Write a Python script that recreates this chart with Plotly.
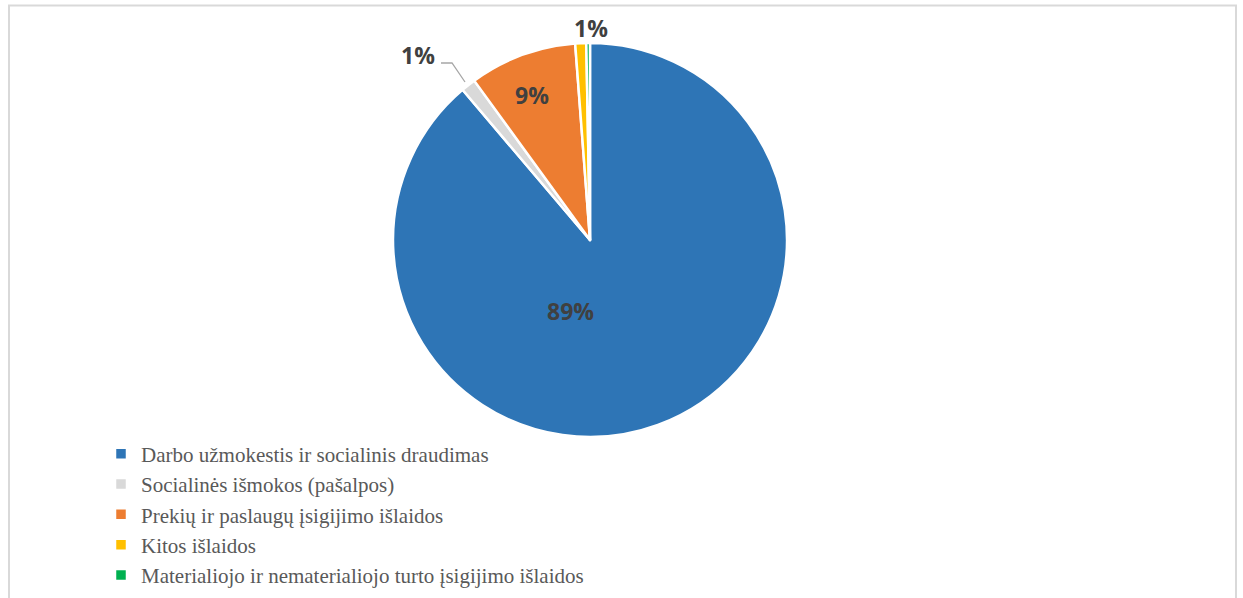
import plotly.graph_objects as go

W, H = 1243, 598

categories = [
    "Darbo užmokestis ir socialinis draudimas",
    "Socialinės išmokos (pašalpos)",
    "Prekių ir paslaugų įsigijimo išlaidos",
    "Kitos išlaidos",
    "Materialiojo ir nematerialiojo turto įsigijimo išlaidos",
]
values = [88.8, 1.2, 8.8, 0.9, 0.3]
colors = ["#2E75B6", "#D9D9D9", "#ED7D31", "#FFC000", "#00B050"]

total = sum(values)
pct_labels = [f"{round(v / total * 100)}%" for v in values]

def px(x):
    return x / W

def py(y):
    return 1 - y / H

fig = go.Figure()
fig.add_trace(go.Pie(
    labels=categories,
    values=values,
    sort=False,
    direction="clockwise",
    rotation=0,
    marker=dict(colors=colors, line=dict(color="white", width=2.5)),
    textinfo="none",
    hoverinfo="label+percent",
    domain=dict(x=[px(590 - 197), px(590 + 197)], y=[py(437), py(43)]),
))

# data label positions (pixel) for slices with shown labels
label_pos = {0: (570, 311), 1: (418, 55), 2: (532, 95), 3: (591, 28)}
annotations = []
for i, (x, y) in label_pos.items():
    annotations.append(dict(
        x=px(x), y=py(y), xref="paper", yref="paper",
        text=f"<b>{pct_labels[i]}</b>", showarrow=False,
        font=dict(family="Open Sans", size=23, color="#404040"),
        xanchor="center", yanchor="middle",
    ))

shapes = [
    dict(type="rect", xref="paper", yref="paper",
         x0=px(9), x1=px(1236), y0=-0.2, y1=py(5.5),
         line=dict(color="#D9D9D9", width=2), fillcolor="rgba(0,0,0,0)", layer="below"),
    dict(type="path", xref="paper", yref="paper",
         path=f"M {px(441)},{py(63)} L {px(452)},{py(63)} L {px(465)},{py(82)}",
         line=dict(color="#A6A6A6", width=1.3)),
]

fig.update_layout(
    width=W, height=H,
    margin=dict(l=0, r=0, t=0, b=0),
    paper_bgcolor="white",
    plot_bgcolor="white",
    showlegend=True,
    legend=dict(
        x=px(101), y=0.004, xanchor="left", yanchor="bottom",
        font=dict(family="Liberation Serif", size=21, color="#595959"),
        tracegroupgap=0,
        bgcolor="rgba(0,0,0,0)",
    ),
    annotations=annotations,
    shapes=shapes,
)

fig.write_html("out.html", config={"displayModeBar": False},
               post_script="document.body.style.margin='0';")
